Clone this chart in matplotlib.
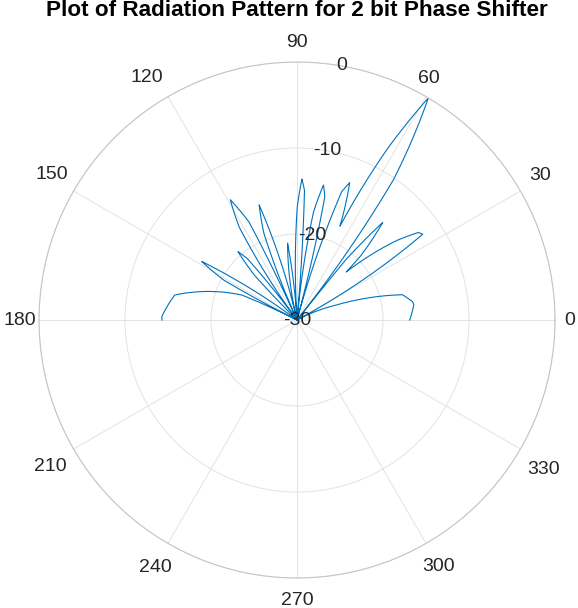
import numpy as np
import matplotlib
matplotlib.use("Agg")
import matplotlib.pyplot as plt
from matplotlib.transforms import offset_copy

plt.rcParams['font.family'] = ['Liberation Sans', 'DejaVu Sans']

# pattern, lobe by lobe (angle in deg, gain in dB)
angle_deg = [
    # end-fire lobe at 0 deg
    0, 1.5, 3, 4.5, 6, 7.5, 9, 10.5, 12, 13.5, 14.9, 16, 17.2, 19, 21, 22.3, 23.5,
    # lobe near 34 deg, shallow dip, lobe near 49 deg
    28.3, 28.8, 29.5, 30.5, 31.6, 32.6, 33.5, 34.3, 35.1, 35.8, 37.5, 38.6, 40.5, 41.9,
    43.0, 43.5, 44.3,
    45.2, 46.2, 47.2, 48.0, 48.7, 49.4, 50.0, 50.6, 51.0, 51.3, 51.6,
    # main beam
    52.0, 52.6, 53.2, 54.0, 55.5, 56.7, 57.5, 58.1, 58.6, 59.0, 59.4, 59.8, 60.2, 60.8,
    61.2, 61.6, 62.2, 63.0, 63.6,
    64.2, 64.6, 64.9, 65.4,
    66.2, 67.0, 67.8, 68.4, 69.0, 69.9, 70.8, 71.6, 72.3, 72.9, 73.3,
    74.9, 75.3, 75.8, 76.5, 77.3, 78.1, 78.9, 79.7, 80.5, 81.3, 82.0, 82.5, 82.9,
    84.8, 85.1, 85.5, 86.1, 86.7, 87.4, 88.0, 88.6, 89.3, 89.9, 90.5, 90.9, 91.2,
    93.5, 93.9, 94.5, 95.1, 95.8, 96.4, 97.0, 97.7, 98.3, 98.9, 99.6,
    103.7, 104.15, 104.7, 105.5, 106.4, 107.3, 108.2, 109.1, 110.0, 110.9, 111.7, 112.25, 112.7,
    114.2, 114.7, 115.3, 116.1, 117.1, 118.0, 119.0, 120.0, 120.9, 121.9, 122.7, 123.3, 123.8,
    126.3, 127.3, 128.1, 129.0, 129.9, 130.8, 131.7, 132.6, 133.5, 134.3, 135.3,
    143.4, 143.9, 144.5, 145.4, 146.4, 147.4, 148.4, 149.4, 150.4, 151.4, 152.3, 152.9, 153.4,
    # end-fire lobe at 180 deg
    154.0, 155.6, 158.2, 160.8, 164.6, 166.5, 168.4, 171.0, 173.5, 176.0, 178.6, 180,
]
gain_db = [
    -16.9, -16.7, -16.5, -16.4, -16.3, -16.3, -16.4, -16.55, -16.8, -17.4, -18.2, -19.0,
    -20.1, -22.9, -25.2, -27.8, -30,
    -30, -25, -20, -16.3, -14.2, -13.0, -12.5, -12.3, -12.4, -12.6, -13.4, -15.2, -18.1, -20.4,
    -21.6, -20.9, -22.0,
    -19.5, -16.8, -15.4, -15.0, -14.9, -15.1, -15.9, -17.8, -21, -25, -30,
    -25, -20, -16.5, -13.2, -10.2, -6.8, -3.4, -1.3, -0.4, -0.05, 0, -0.05, -0.25, -0.9,
    -2.2, -4.0, -7.6, -11.3, -14.4,
    -17.0, -17.8, -17.2, -18.0,
    -15.8, -14.3, -13.3, -13.0, -12.9, -13.2, -14.2, -16.2, -19.4, -23.9, -30,
    -30, -25, -20.5, -17.3, -15.3, -14.3, -14.0, -14.3, -15.3, -17.3, -20.5, -25, -30,
    -30, -24.6, -20.1, -16.9, -14.9, -13.9, -13.6, -13.9, -14.9, -16.9, -20.1, -24.6, -30,
    -30, -27.2, -24.0, -22.0, -21.0, -20.7, -21.0, -22.0, -24.0, -27.2, -30,
    -30, -26.9, -22.4, -19.2, -17.2, -16.2, -15.9, -16.2, -17.2, -19.2, -22.4, -26.9, -30,
    -30, -25, -20.5, -17.3, -15.3, -14.3, -14.0, -14.3, -15.3, -17.3, -20.5, -25, -30,
    -30, -26.0, -22.8, -20.8, -19.8, -19.5, -19.8, -20.8, -22.8, -26.0, -30,
    -30, -28, -23.5, -20.3, -18.3, -17.3, -17.0, -17.3, -18.3, -20.3, -23.5, -28, -30,
    -25.5, -23.0, -20.6, -18.7, -16.9, -16.1, -15.5, -14.9, -14.55, -14.35, -14.27, -14.3,
]

r_ticks = [-30, -20, -10, 0]
theta_ticks = list(range(0, 360, 30))
# where each angle label sits: (angle in deg, dB past the rim)
theta_label_pos = {
    0: (0, 1.7), 30: (31, 3.0), 60: (61.5, 2.2), 90: (90, 2.3),
    120: (121.5, 3.4), 150: (149, 3.2), 180: (180, 2.2), 210: (210.4, 3.3),
    240: (240, 2.9), 270: (270, 2.6), 300: (300, 2.8), 330: (329, 3.4),
}

fig = plt.figure(figsize=(5.78, 6.08), dpi=100)
ax = fig.add_axes([0.0675, 0.0493, 0.8927, 0.8487], projection='polar')

theta = np.deg2rad(angle_deg)
r = np.clip(gain_db, -30, 0)
line, = ax.plot(theta, r, color='#0072BD', linewidth=0.8)
# draw segments along theta/r instead of straight chords
line.get_path()._interpolation_steps = 12
line.set_data(theta, r)

ax.set_rlim(-30, 0)
ax.set_rgrids(r_ticks, labels=[''] * len(r_ticks))
ax.set_thetagrids(theta_ticks, labels=[''] * len(theta_ticks))
ax.tick_params(length=0)
ax.grid(True, color='#e3e3e3', linewidth=0.7)
ax.spines['polar'].set_color('#c4c4c4')
ax.spines['polar'].set_linewidth(0.8)

# diagonal labels sit a touch lower in the original
lowered = offset_copy(ax.transData, fig=fig, x=0, y=-2, units='dots')
for t in theta_ticks:
    a, rr = theta_label_pos[t]
    tr = ax.transData if t % 90 == 0 else lowered
    ax.text(np.deg2rad(a), rr, str(t), ha='center', va='center',
            fontsize=14, color='#262626', transform=tr)

for rt in r_ticks:
    ax.text(np.deg2rad(80), rt, str(rt), ha='center', va='center',
            fontsize=14, color='#262626')

fig.text(297 / 578, 1 - 11 / 608, "Plot of Radiation Pattern for 2 bit Phase Shifter",
         ha='center', va='center', fontsize=16.2, fontweight='bold', color='black')

fig.savefig("out.png", dpi=100)
